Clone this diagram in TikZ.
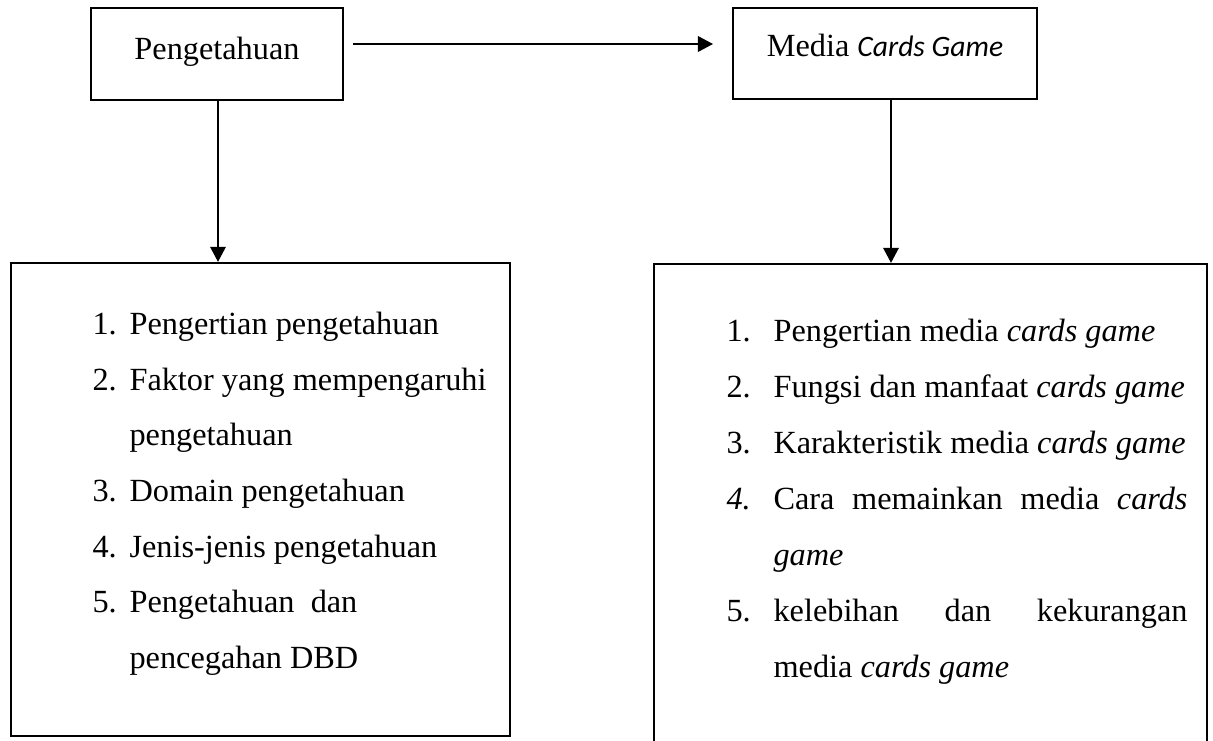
\documentclass[tikz,border=0pt]{standalone}
\usepackage{fontspec}
\setmainfont{Liberation Serif}
\newfontfamily\calibri{Carlito}
\usetikzlibrary{arrows.meta}
\begin{document}
\begin{tikzpicture}[x=0.3715pt,y=-0.3715pt,
  thickbox/.style={draw,line width=0.9pt,rectangle,inner sep=0},
  thinbox/.style={draw,line width=0.45pt,rectangle,inner sep=0},
  arr/.style={line width=0.6pt,-{Triangle[length=5.6pt,width=5.8pt]}},
  txt/.style={anchor=base west,inner sep=0,font=\fontsize{12pt}{14pt}\selectfont},
  ctxt/.style={anchor=base,inner sep=0,font=\fontsize{12pt}{14pt}\selectfont}]
\useasboundingbox (0,0) rectangle (1213,740);
\fill[white] (0,0) rectangle (1213,740);

% header boxes
\node[thickbox,minimum width=93.6pt,minimum height=34.2pt] (peng) at (217,54) {};
\node[ctxt] (pengt) at (217,59) {Pengetahuan};
\node[thinbox,minimum width=112.9pt,minimum height=33.8pt] (media) at (885,53.5) {};
\node[ctxt] (mediat) at (885,56) {Media {\calibri\itshape\fontsize{11pt}{13pt}\selectfont Cards Game}};

% bottom boxes
\node[thickbox,minimum width=185.4pt,minimum height=175.7pt] (lbox) at (260.5,499.5) {};
\node[thickbox,minimum width=205.4pt,minimum height=180.5pt] (rbox) at (930.5,507) {};

% connectors
\coordinate (h1) at (353,44);
\coordinate (h2) at (713,44);
\draw[arr] (h1) -- (h2);
\coordinate (v1) at (218,100);
\draw[arr] (v1) -- (v1 |- lbox.north);
\coordinate (v2) at (891,99);
\draw[arr] (v2) -- (v2 |- rbox.north);

% left list
\node[txt] (ln1) at (92,334) {1.};
\node[txt] (lt1) at (129,334) {Pengertian pengetahuan};
\node[txt] (ln2) at (92,390) {2.};
\node[txt] (lt2) at (129,390) {Faktor yang mempengaruhi};
\node[txt] (lt2b) at (129,445) {pengetahuan};
\node[txt] (ln3) at (92,501) {3.};
\node[txt] (lt3) at (129,501) {Domain pengetahuan};
\node[txt] (ln4) at (92,557) {4.};
\node[txt] (lt4) at (129,557) {Jenis-jenis pengetahuan};
\node[txt] (ln5) at (92,612) {5.};
\node[txt] (lt5) at (129,612) {Pengetahuan\ \ dan};
\node[txt] (lt5b) at (129,668) {pencegahan DBD};

% right list
\node[txt] (rn1) at (726,341) {1.};
\node[txt] (rt1) at (773,341) {Pengertian media \textit{cards game}};
\node[txt] (rn2) at (726,397) {2.};
\node[txt] (rt2) at (773,397) {Fungsi dan manfaat \textit{cards game}};
\node[txt] (rn3) at (726,453) {3.};
\node[txt] (rt3) at (773,453) {Karakteristik media \textit{cards game}};
\node[txt] (rn4) at (726,509) {\textit{4.}};
\node[txt] (rt4) at (773,509) {\hbox to 153.8pt{Cara\hfill memainkan\hfill media\hfill \textit{cards}}};
\node[txt] (rt4b) at (773,565) {\textit{game}};
\node[txt] (rn5) at (726,621) {5.};
\node[txt] (rt5) at (773,621) {\hbox to 153.8pt{kelebihan\hfill dan\hfill kekurangan}};
\node[txt] (rt5b) at (773,677) {media \textit{cards game}};
\end{tikzpicture}
\end{document}
